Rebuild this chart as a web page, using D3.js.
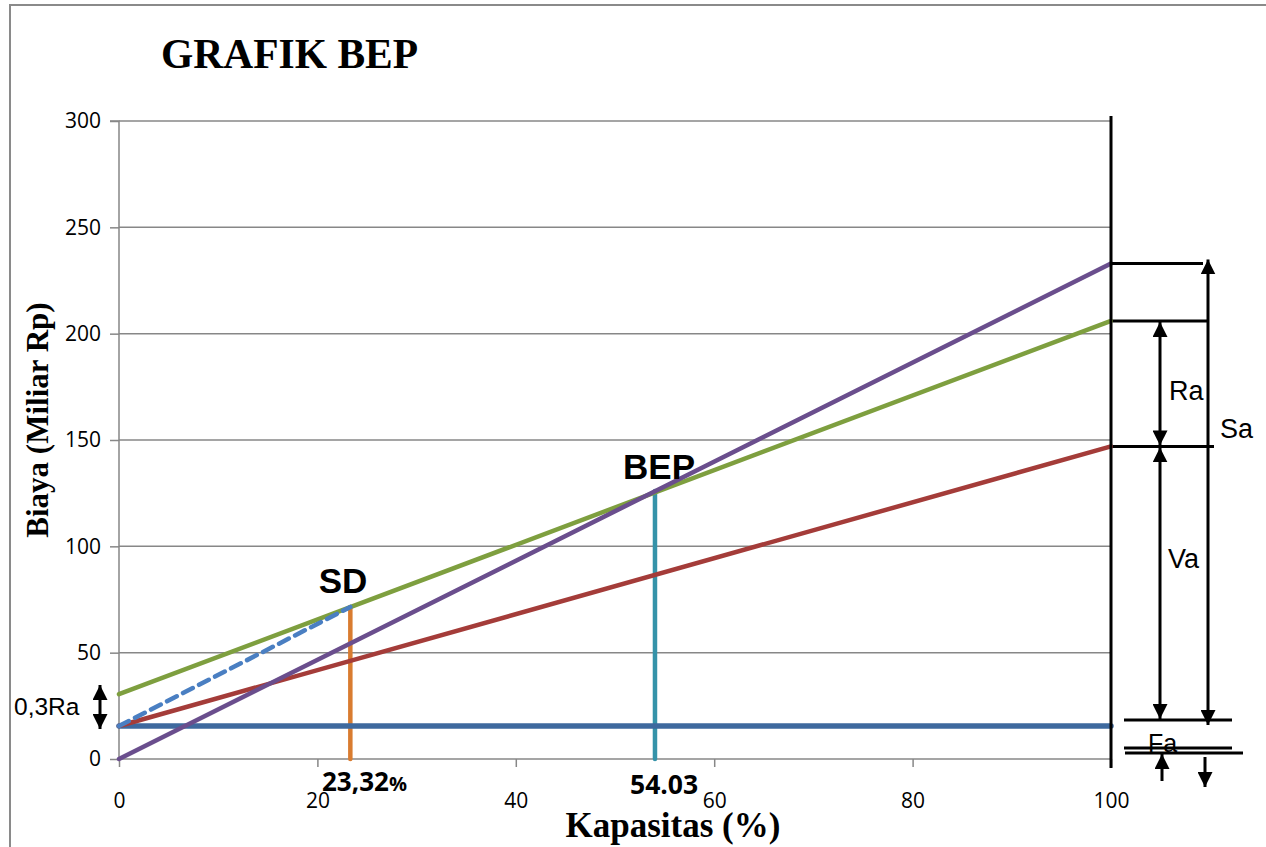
<!DOCTYPE html>
<html><head><meta charset="utf-8">
<script src="https://cdn.jsdelivr.net/npm/d3@7"></script>
<style>body{margin:0;background:#fff}svg{display:block}</style>
</head><body>
<svg id="c" width="1266" height="847"></svg>
<script>
// ---- data ----
const capacity = [0, 100];                 // Kapasitas (%)
const fixedCost = [15.5, 15.5];            // Fa (blue)
const variableCost = [15.5, 147];          // Fa + Va (red)
const semiCost = [30.5, 206];              // green
const salesLine = [0, 233];                // Sa (purple)
const sdPoint = {x: 23.32, y: 71.5, label: "23,32"};
const bepPoint = {x: 54.03, y: 126, label: "54.03"};
const dashedLine = [[0, 15.5], [23.32, 71.5]];
const xTicks = [0, 20, 40, 60, 80, 100];
const yTicks = [0, 50, 100, 150, 200, 250, 300];

const svg = d3.select("#c");
const x = d3.scaleLinear().domain([0, 100]).range([119, 1111]);
const y = d3.scaleLinear().domain([0, 300]).range([759, 121]);
const gray = "#878787";

// outer frame
svg.append("rect").attr("x", 10).attr("y", 5).attr("width", 1400).attr("height", 1000)
  .attr("fill", "none").attr("stroke", "#8a8a8a").attr("stroke-width", 2);

// title
svg.append("text").attr("x", 161).attr("y", 68).text("GRAFIK BEP")
  .attr("font-family", "Liberation Serif").attr("font-weight", "bold").attr("font-size", 41.5);

// gridlines
svg.append("g").selectAll("line").data(yTicks.filter(d => d > 0)).join("line")
  .attr("x1", x(0)).attr("x2", x(100)).attr("y1", d => y(d)).attr("y2", d => y(d))
  .attr("stroke", gray).attr("stroke-width", 1.5);

// axes
const yAxis = svg.append("g").attr("transform", `translate(${x(0)},0)`)
  .call(d3.axisLeft(y).tickValues(yTicks).tickSize(9).tickPadding(9).tickFormat(d3.format("d")));
const xAxis = svg.append("g").attr("transform", `translate(0,${y(0)})`)
  .call(d3.axisBottom(x).tickValues(xTicks).tickSize(8).tickPadding(26).tickFormat(d3.format("d")));
[yAxis, xAxis].forEach(a => {
  a.select(".domain").attr("stroke", gray).attr("stroke-width", 1.5);
  a.selectAll(".tick line").attr("stroke", gray).attr("stroke-width", 1.5);
  a.selectAll("text").attr("font-family", "Open Sans").attr("font-size", 21).attr("fill", "#000");
});
yAxis.select(".domain").attr("d", `M-9,${y(300)}H0V${y(0)}`);
xAxis.select(".domain").attr("d", `M${x(0)},0H${x(100)}`);

// axis titles
svg.append("text").attr("transform", `translate(48,420) rotate(-90)`).attr("text-anchor", "middle")
  .text("Biaya (Miliar Rp)").attr("font-family", "Liberation Serif").attr("font-weight", "bold").attr("font-size", 31);
svg.append("text").attr("x", 673).attr("y", 837).attr("text-anchor", "middle")
  .text("Kapasitas (%)").attr("font-family", "Liberation Serif").attr("font-weight", "bold").attr("font-size", 35);

const line = d3.line().x(d => x(d[0])).y(d => y(d[1]));
const pts = arr => capacity.map((c, i) => [c, arr[i]]);

// vertical markers
svg.append("line").attr("x1", x(sdPoint.x)).attr("x2", x(sdPoint.x)).attr("y1", y(0)).attr("y2", y(sdPoint.y))
  .attr("stroke", "#d97c30").attr("stroke-width", 4.5).attr("stroke-linecap", "round");
svg.append("line").attr("x1", x(bepPoint.x)).attr("x2", x(bepPoint.x)).attr("y1", y(0)).attr("y2", y(bepPoint.y))
  .attr("stroke", "#3593a9").attr("stroke-width", 4.5).attr("stroke-linecap", "round");

// series lines
svg.append("path").attr("d", line(pts(fixedCost))).attr("stroke", "#3e699e").attr("stroke-width", 5.5).attr("fill", "none").attr("stroke-linecap", "round");
svg.append("path").attr("d", line(pts(variableCost))).attr("stroke", "#a43c39").attr("stroke-width", 4.5).attr("fill", "none").attr("stroke-linecap", "round");
svg.append("path").attr("d", line(pts(semiCost))).attr("stroke", "#7e9f3f").attr("stroke-width", 4.5).attr("fill", "none").attr("stroke-linecap", "round");
svg.append("path").attr("d", line(dashedLine)).attr("stroke", "#4a7fc2").attr("stroke-width", 4.5).attr("fill", "none")
  .attr("stroke-dasharray", "11,7").attr("stroke-linecap", "round");
svg.append("path").attr("d", line(pts(salesLine))).attr("stroke", "#6a4e8d").attr("stroke-width", 4.5).attr("fill", "none").attr("stroke-linecap", "round");

// point labels
svg.append("text").attr("x", 343).attr("y", 593).attr("text-anchor", "middle").text("SD")
  .attr("font-family", "Liberation Sans").attr("font-weight", "bold").attr("font-size", 35);
svg.append("text").attr("x", 659).attr("y", 479).attr("text-anchor", "middle").text("BEP")
  .attr("font-family", "Liberation Sans").attr("font-weight", "bold").attr("font-size", 35);
const sdt = svg.append("text").attr("x", 322).attr("y", 791)
  .attr("font-family", "Open Sans").attr("font-weight", "bold").attr("font-size", 26);
sdt.append("tspan").text(sdPoint.label);
sdt.append("tspan").text("%").attr("font-size", 20);
svg.append("text").attr("x", 630).attr("y", 794).text(bepPoint.label)
  .attr("font-family", "Open Sans").attr("font-weight", "bold").attr("font-size", 26.5);

// ---- annotations ----
const defs = svg.append("defs");
defs.append("marker").attr("id", "ah").attr("viewBox", "0 0 10 10").attr("refX", 10).attr("refY", 5)
  .attr("markerWidth", 5).attr("markerHeight", 5).attr("markerUnits", "strokeWidth").attr("orient", "auto-start-reverse")
  .append("path").attr("d", "M0,0L10,5L0,10Z").attr("fill", "#000");

const ann = svg.append("g").attr("stroke", "#000").attr("stroke-width", 3).attr("fill", "none");
ann.append("line").attr("x1", 1111).attr("x2", 1111).attr("y1", 116).attr("y2", 768);
const hl = (x1, x2, yy) => ann.append("line").attr("x1", x1).attr("x2", x2).attr("y1", yy).attr("y2", yy);
hl(1112, 1203, y(salesLine[1]));
hl(1113, 1208, y(semiCost[1]));
hl(1113, 1214, y(variableCost[1]));
hl(1124, 1232, 720);
hl(1124, 1232, 748);
hl(1125, 1243, 753);
const arr = (xx, y1, y2, both) => {
  const l = ann.append("line").attr("x1", xx).attr("x2", xx).attr("y1", y1).attr("y2", y2).attr("marker-end", "url(#ah)");
  if (both) l.attr("marker-start", "url(#ah)");
};
arr(1208, 725, y(salesLine[1]) - 4, true);
arr(1160, y(variableCost[1]) - 1, y(semiCost[1]) + 1, true);
arr(1160, 719, y(variableCost[1]) + 1, true);
arr(1162, 781, 754, false);
arr(1205, 757, 787, false);
arr(100, 729, 685, true);

const lab = (t, xx, yy, fs) => svg.append("text").attr("x", xx).attr("y", yy).text(t)
  .attr("font-family", "Liberation Sans").attr("font-size", fs).attr("dominant-baseline", "central");
lab("Ra", 1169, 391, 27);
lab("Sa", 1220, 429, 27);
lab("Va", 1168, 559, 27);
lab("Fa", 1148, 743, 25);
lab("0,3Ra", 14, 706, 24.5);
</script>
</body></html>
